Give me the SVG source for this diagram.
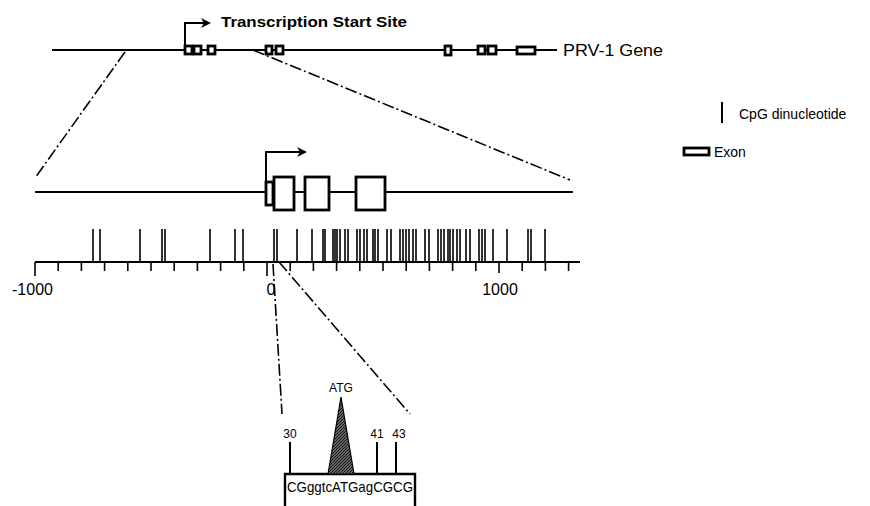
<svg xmlns="http://www.w3.org/2000/svg" width="870" height="506" viewBox="0 0 870 506">
<defs>
<marker id="arr" markerWidth="11" markerHeight="11" refX="8" refY="5.5" orient="auto" markerUnits="userSpaceOnUse">
<path d="M0,0.5 L10,5.5 L0,10.5 L3,5.5 Z" fill="#000"/>
</marker>
<pattern id="hatch" width="3" height="3" patternUnits="userSpaceOnUse">
<rect width="3" height="3" fill="#666"/>
<path d="M0,3 L3,0" stroke="#111" stroke-width="1"/>
</pattern>
</defs>
<style>
.ln{stroke:#000;stroke-width:2;fill:none}
.ex{stroke:#000;stroke-width:2.8;fill:#fff}
.dd{stroke:#000;stroke-width:1.6;fill:none;stroke-dasharray:12 3 2 3}
.t{font-family:"Liberation Sans",Arial,sans-serif;fill:#000}
.bar{stroke:#000;stroke-width:1.6;fill:none}
</style>
<rect width="870" height="506" fill="#fff"/>

<g id="connectors">
<path class="dd" d="M125,52 L35,178"/>
<path class="dd" d="M253,50 L570,180"/>
<path class="dd" d="M273,264 L282,414"/>
<path class="dd" d="M279,262 L410,414"/>
</g>

<g id="top-gene">
<path class="ln" d="M52,50 H557"/>
<rect class="ex" x="185" y="46" width="7" height="8"/>
<rect class="ex" x="194" y="46" width="7" height="8"/>
<rect class="ex" x="208" y="46" width="7" height="8"/>
<rect class="ex" x="266" y="46" width="6" height="8"/>
<rect class="ex" x="276" y="46" width="7" height="8"/>
<rect class="ex" x="445" y="46" width="6" height="9"/>
<rect class="ex" x="478" y="46" width="7" height="8"/>
<rect class="ex" x="488" y="46" width="8" height="8"/>
<rect class="ex" x="517" y="47" width="18" height="7"/>
<text class="t" x="563" y="56" font-size="16" textLength="100" lengthAdjust="spacingAndGlyphs">PRV-1 Gene</text>
</g>

<g id="tss-top">
<path class="ln" d="M185,46 V23 H209" marker-end="url(#arr)"/>
<text class="t" x="221" y="27" font-size="15" font-weight="bold" textLength="186" lengthAdjust="spacingAndGlyphs">Transcription Start Site</text>
</g>

<g id="middle-gene">
<path class="ln" d="M35,192 H573"/>
<path class="ln" d="M266,182 V152 H305" marker-end="url(#arr)"/>
<rect class="ex" x="266" y="182" width="7" height="23"/>
<rect class="ex" x="274" y="177" width="20" height="33"/>
<rect class="ex" x="305" y="177" width="24" height="33"/>
<rect class="ex" x="356" y="177" width="29" height="33"/>
</g>

<g id="axis">
<path d="M35,262 H580" stroke="#000" stroke-width="2.2" fill="none"/>
<path class="bar" stroke-width="2" d="M35,262V276 M58.2,262V271 M81.4,262V271 M104.6,262V271 M127.8,262V271 M151,262V271 M174.2,262V271 M197.4,262V271 M220.6,262V271 M243.8,262V271 M267,262V276 M290.2,262V271 M313.4,262V271 M336.6,262V271 M359.8,262V271 M383,262V271 M406.2,262V271 M429.4,262V271 M452.6,262V271 M475.8,262V271 M499,262V273 M522.2,262V271 M545.4,262V271 M568.6,262V271"/>
<text class="t" x="12" y="295" font-size="16">-1000</text>
<text class="t" x="271" y="295" font-size="16" text-anchor="middle">0</text>
<text class="t" x="500" y="295" font-size="16" text-anchor="middle">1000</text>
</g>

<g id="cpg-bars">
<path class="bar" d="M93,229V262 M100,229V262 M140,229V262 M162,229V262 M165,229V262 M210,229V262 M235,229V262 M243,229V262 M274,229V262 M277,229V262 M297,229V262 M312,229V262 M323,229V262 M325,229V262 M333,229V262 M335,229V262 M337,229V262 M340,229V262 M345,229V262 M348,229V262 M357,229V262 M360,229V262 M364,229V262 M367,229V262 M373,229V262 M375,229V262 M378,229V262 M387,229V262 M391,229V262 M400,229V262 M403,229V262 M406,229V262 M409,229V262 M413,229V262 M416,229V262 M425,229V262 M429,229V262 M438,229V262 M441,229V262 M444,229V262 M448,229V262 M450,229V262 M453,229V262 M457,229V262 M460,229V262 M466,229V262 M470,229V262 M479,229V262 M482,229V262 M485,229V262 M493,229V262 M507,229V262 M528,229V262 M531,229V262 M545,229V262"/>
</g>

<g id="sequence">
<path d="M285,506 V474 H415 V506" stroke="#000" stroke-width="2.4" fill="none"/>
<path d="M328,474 L341,397 L354,474 Z" fill="url(#hatch)" stroke="#000" stroke-width="1.2"/>
<text class="t" x="341" y="392" font-size="12" text-anchor="middle">ATG</text>
<path class="ln" d="M290,442 V474 M377,442 V474 M396,442 V474"/>
<text class="t" x="290" y="438" font-size="12" text-anchor="middle">30</text>
<text class="t" x="377" y="438" font-size="12" text-anchor="middle">41</text>
<text class="t" x="399" y="438" font-size="12" text-anchor="middle">43</text>
<text class="t" x="287" y="492" font-size="15" textLength="126" lengthAdjust="spacingAndGlyphs">CGggtcATGagCGCG</text>
</g>

<g id="legend">
<path d="M722,102 V123" stroke="#000" stroke-width="2"/>
<text class="t" x="739" y="119" font-size="14">CpG dinucleotide</text>
<rect class="ex" x="684" y="148" width="25" height="7"/>
<text class="t" x="714" y="157" font-size="14">Exon</text>
</g>
</svg>
